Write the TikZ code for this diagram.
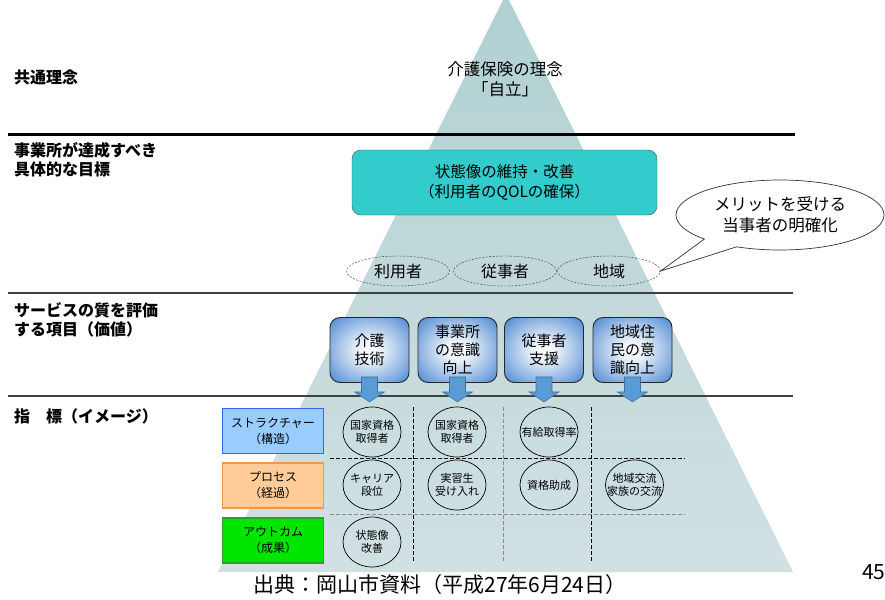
\documentclass[tikz,border=0pt]{standalone}
\usepackage{fontspec}
\setmainfont{Noto Sans CJK JP}
\usetikzlibrary{shapes.geometric,shapes.callouts,calc}
\definecolor{tritop}{RGB}{160,200,201}
\definecolor{tribot}{RGB}{226,233,235}
\definecolor{tealbox}{RGB}{51,204,204}
\definecolor{boxblue}{RGB}{70,132,208}
\colorlet{boxmid}{boxblue!55!white}
\colorlet{boxlight}{boxblue!12!white}
\definecolor{arrblue}{RGB}{91,155,213}
\definecolor{arredge}{RGB}{65,113,156}
\definecolor{strfill}{RGB}{153,204,255}
\definecolor{stredge}{RGB}{51,102,255}
\definecolor{profill}{RGB}{255,204,153}
\definecolor{proedge}{RGB}{247,150,70}
\definecolor{outfill}{RGB}{0,230,0}
\definecolor{outedge}{RGB}{51,153,51}
\pgfdeclareverticalshading{trishade}{100bp}{color(0bp)=(tribot); color(100bp)=(tritop)}
\pgfdeclareradialshading{boxglow}{\pgfpoint{0bp}{0bp}}{color(0bp)=(white); color(8bp)=(boxlight); color(22bp)=(boxmid); color(36bp)=(boxblue); color(75bp)=(boxblue)}
\begin{document}
\begin{tikzpicture}[x=1pt,y=-1pt,
 lbl/.style={anchor=west,align=left,inner sep=0,font=\fontsize{16}{18.5}\selectfont\bfseries},
 goalbox/.style={draw=black!70,fill=tealbox,rounded corners=9pt,minimum width=305,minimum height=65,align=center,font=\fontsize{15.5}{19.5}\selectfont},
 who/.style={ellipse,draw=black!80,dash pattern=on 2pt off 1.5pt,minimum width=103,minimum height=30,inner sep=0,font=\fontsize{16}{18}\selectfont},
 valbox/.style={draw=black!85,line width=0.9pt,rounded corners=10pt,shade,shading=boxglow,minimum width=79,minimum height=65,inner sep=0,align=center,font=\fontsize{15}{18}\selectfont},
 downarr/.style={fill=arrblue,draw=arredge,line width=0.6pt},
 cat/.style={minimum width=101,minimum height=45,line width=1.2pt,align=center,inner sep=0,font=\fontsize{12}{16}\selectfont},
 ind/.style={ellipse,draw,line width=0.7pt,minimum width=58,minimum height=50,inner sep=-20pt,align=center,font=\fontsize{11}{13.5}\selectfont},
 gridk/.style={black,line width=0.8pt,dash pattern=on 3.5pt off 2.5pt},
 gridg/.style={black!45,line width=0.8pt,dash pattern=on 3.5pt off 2.5pt}]
\useasboundingbox (0,0) rectangle (885,599);
\fill[white] (0,0) rectangle (885,599);
% pyramid
\shade[shading=trishade] (506,-6) -- (793,572) -- (218,572) -- cycle;
% section rules
\draw[line width=3pt,black] (8,134) -- (795,134);
\draw[line width=1.3pt,black!75] (8,293) -- (793,293);
\draw[line width=1.3pt,black!75] (8,396) -- (793,396);
% left labels
\node[lbl] (lab1) at (14,77) {共通理念};
\node[lbl] (lab2) at (14,160) {事業所が達成すべき\\具体的な目標};
\node[lbl] (lab3) at (14,320) {サービスの質を評価\\する項目（価値）};
\node[lbl] (lab4) at (14,416) {指　標（イメージ）};
% top
\node[align=center,font=\fontsize{16.5}{20}\selectfont] (title) at (505,79) {介護保険の理念\\「自立」};
\node[goalbox] (goal) at (504.5,182.5) {状態像の維持・改善\\（利用者のQOLの確保）};
\node[who] (e1) at (398,271) {利用者};
\node[who] (e2) at (505,271) {従事者};
\node[who] (e3) at (609,271) {地域};
\node[ellipse callout,draw=black!80,fill=white,line width=0.7pt,minimum width=208,minimum height=70,inner sep=0,
  callout absolute pointer={(e3.east)},callout pointer arc=22,align=center,font=\fontsize{16.5}{20.5}\selectfont] (merit) at (780,215) {メリットを受ける\\当事者の明確化};
% value boxes
\node[valbox] (b1) at (369.5,350) {介護\\技術};
\node[valbox] (b2) at (457.5,350) {事業所\\の意識\\向上};
\node[valbox] (b3) at (544,350) {従事者\\支援};
\node[valbox] (b4) at (632.5,350) {地域住\\民の意\\識向上};
\foreach \b in {b1,b2,b3,b4}{
 \draw[downarr] ($(\b.south)+(-8,-6)$) -- ($(\b.south)+(8,-6)$) -- ($(\b.south)+(8,9)$) -- ($(\b.south)+(15,9)$)
   -- ($(\b.south)+(0,19)$) -- ($(\b.south)+(-15,9)$) -- ($(\b.south)+(-8,9)$) -- cycle;
}
% category boxes
\node[cat,fill=strfill,draw=stredge] (s1) at (273,431) {ストラクチャー\\（構造）};
\node[cat,fill=profill,draw=proedge] (s2) at (273,485.5) {プロセス\\（経過）};
\node[cat,fill=outfill,draw=outedge] (s3) at (273,540.5) {アウトカム\\（成果）};
% grid
\draw[gridk] (413,407) -- (413,562);
\draw[gridg] (503,407) -- (503,562);
\draw[gridk] (591,407) -- (591,562);
\draw[gridk] (330,458) -- (685,458);
\draw[gridg] (330,514) -- (685,514);
% indicators
\node[ind] (c11) at (372,432) {国家資格\\取得者};
\node[ind] (c12) at (457,432) {国家資格\\取得者};
\node[ind] (c13) at (549,432) {有給取得率};
\node[ind] (c21) at (372,485) {キャリア\\段位};
\node[ind] (c22) at (457,485) {実習生\\受け入れ};
\node[ind] (c23) at (549,485) {資格助成};
\node[ind] (c24) at (634.5,485) {地域交流\\家族の交流};
\node[ind] (c31) at (372,542) {状態像\\改善};
% source and page
\node[font=\fontsize{21}{21}\selectfont] (src) at (440,585) {出典：岡山市資料（平成27年6月24日）};
\node[anchor=west,inner sep=0,font=\fontsize{21}{21}\selectfont] (pg) at (862,572.5) {45};
\end{tikzpicture}
\end{document}
